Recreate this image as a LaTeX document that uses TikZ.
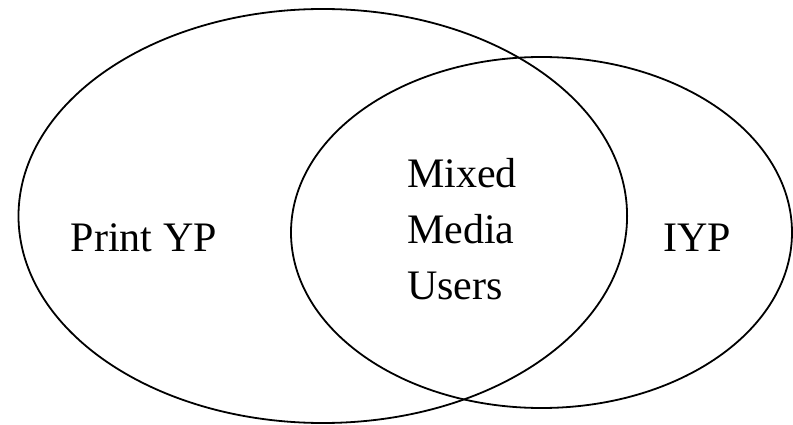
\documentclass[tikz,border=0pt]{standalone}
\usepackage{fontspec}
\setmainfont{Liberation Serif}
\begin{document}
\begin{tikzpicture}[x=1pt,y=-1pt,
  setline/.style={draw=black,line width=1.8pt},
  label/.style={anchor=base west,inner sep=0pt,font=\fontsize{42}{50}\selectfont}]
\useasboundingbox (0,0) rectangle (793,425);
% the two overlapping sets
\draw[setline] (322.8,216) ellipse [x radius=304.3, y radius=207];
\draw[setline] (541.5,232.5) ellipse [x radius=250.5, y radius=175.5];
% set labels
\node[label] (print) at (70.7,251.7) {Print YP};
\node[label] (iyp) at (663,251.7) {IYP};
\node[label] (mixed) at (407,187.3) {Mixed};
\node[label] (media) at (407,243.3) {Media};
\node[label] (users) at (407,299.3) {Users};
\end{tikzpicture}
\end{document}
